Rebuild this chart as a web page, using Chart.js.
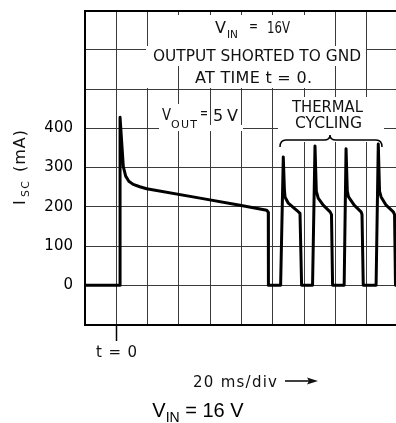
<!DOCTYPE html>
<html>
<head>
<meta charset="utf-8">
<script src="https://cdn.jsdelivr.net/npm/chart.js@4.4.1/dist/chart.umd.min.js"></script>
<style>
html, body { margin: 0; padding: 0; background: #fff; overflow: hidden; width: 396px; height: 423px; }
#wrap { width: 402px; height: 423px; }
</style>
</head>
<body>
<div id="wrap"><canvas id="chart" width="402" height="423"></canvas></div>
<script>
// time in scope divisions (20 ms/div), t = 0 at division 1
const timeDiv = [
    0, 1.12, 1.12, 1.224, 1.30, 1.40, 1.54, 1.75, 1.97, 3.674, 4.952, 5.805, 5.856,
    5.86, 6.25, 6.335, 6.37, 6.39, 6.495, 6.764, 6.869, 6.92,
    7.27, 7.348, 7.39, 7.45, 7.61, 7.83, 7.875, 7.91,
    8.28, 8.34, 8.38, 8.42, 8.60, 8.82, 8.85, 8.89,
    9.30, 9.37, 9.41, 9.46, 9.62, 9.85, 9.89, 9.92, 10.3
];
// short circuit current, mA
const iscMa = [
    0, 0, 428, 302, 278, 265, 257, 251, 246, 222, 204, 191, 186,
    0, 0, 327, 245, 225, 209, 191, 183, 0,
    0, 355, 240, 222, 204, 187, 180, 0,
    0, 348, 240, 225, 204, 187, 180, 0,
    0, 360, 240, 225, 204, 187, 180, 0, 0
];
const yTickLabels = [0, 100, 200, 300, 400];

const FONT = '"DejaVu Sans"';

// draws text so it spans x0..x1 (squeezes or spaces letters)
const fitText = (ctx, str, x0, x1, baseline, size, family) => {
    ctx.save();
    ctx.font = size + 'px ' + (family || FONT);
    ctx.letterSpacing = '0px';
    ctx.textAlign = 'left';
    ctx.textBaseline = 'alphabetic';
    const w = ctx.measureText(str).width;
    const target = x1 - x0;
    if (w > target) {
        ctx.translate(x0, baseline);
        ctx.scale(target / w, 1);
        ctx.fillText(str, 0, 0);
    } else {
        ctx.letterSpacing = ((target - w) / Math.max(str.length - 1, 1)) + 'px';
        ctx.fillText(str, x0, baseline);
    }
    ctx.restore();
};

const mask = (ctx, x0, y0, x1, y1) => {
    ctx.fillStyle = '#fff';
    ctx.fillRect(x0, y0, x1 - x0, y1 - y0);
};

const annotations = {
    id: 'annotations',
    afterDraw(chart) {
        const ctx = chart.ctx;
        ctx.save();

        // white areas behind the notes (grid is broken there in the original)
        mask(ctx, 148, 15, 330, 46);
        mask(ctx, 146, 46, 366, 66);
        mask(ctx, 146, 66, 176, 88);
        mask(ctx, 186, 66, 330, 88);
        mask(ctx, 159, 104, 199, 131);
        mask(ctx, 159, 125, 243, 131);
        mask(ctx, 278, 97, 384, 142);

        ctx.fillStyle = '#111';
        // top note
        fitText(ctx, 'V', 215, 226, 33, 16);
        fitText(ctx, 'IN', 227, 238, 38, 11);
        fitText(ctx, '=', 249, 258, 31, 16);
        fitText(ctx, '16V', 267, 290, 33, 16);
        fitText(ctx, 'OUTPUT SHORTED TO GND', 153, 361, 61, 16);
        fitText(ctx, 'AT TIME t = 0.', 195, 312, 83, 16);

        // V_OUT = 5V
        fitText(ctx, 'V', 162, 171, 120, 16);
        fitText(ctx, 'OUT', 171, 197, 128, 11);
        fitText(ctx, '=', 200, 208, 118, 16);
        fitText(ctx, '5V', 213, 238, 121, 16);

        // thermal cycling
        fitText(ctx, 'THERMAL', 292, 363, 112, 16);
        fitText(ctx, 'CYCLING', 295, 362, 128, 16);
        ctx.strokeStyle = '#000';
        ctx.lineWidth = 1.5;
        ctx.beginPath();
        ctx.moveTo(280, 147);
        ctx.quadraticCurveTo(280, 140, 286, 140);
        ctx.lineTo(324, 140);
        ctx.quadraticCurveTo(330, 140, 330, 135);
        ctx.quadraticCurveTo(330, 140, 336, 140);
        ctx.lineTo(376, 140);
        ctx.quadraticCurveTo(382, 140, 382, 147);
        ctx.stroke();

        // y axis title: I_SC (mA)
        ctx.save();
        ctx.translate(25, 205);
        ctx.rotate(-Math.PI / 2);
        fitText(ctx, 'I', 0, 6, 0, 16);
        fitText(ctx, 'SC', 8, 24, 4, 11);
        fitText(ctx, '(mA)', 33, 75, 0, 16);
        ctx.restore();

        // t = 0 marker under the axis
        const xs = chart.scales.x;
        const t0 = Math.round(xs.getPixelForValue(1)) + 0.5;
        ctx.lineWidth = 1.5;
        ctx.beginPath();
        ctx.moveTo(t0, chart.chartArea.bottom);
        ctx.lineTo(t0, 341);
        ctx.stroke();
        fitText(ctx, 't = 0', 96, 137, 357, 15);

        // time base
        fitText(ctx, '20 ms/div', 193, 277, 387, 15);
        ctx.lineWidth = 1.5;
        ctx.beginPath();
        ctx.moveTo(285, 381);
        ctx.lineTo(310, 381);
        ctx.stroke();
        ctx.beginPath();
        ctx.moveTo(318, 381);
        ctx.lineTo(307, 377.5);
        ctx.lineTo(309, 381);
        ctx.lineTo(307, 384.5);
        ctx.closePath();
        ctx.fill();

        // caption
        ctx.fillStyle = '#000';
        ctx.font = '20px "Liberation Sans"';
        ctx.textAlign = 'left';
        const wV = ctx.measureText('V').width;
        const wRest = ctx.measureText(' = 16 V').width;
        ctx.font = '14px "Liberation Sans"';
        const wIn = ctx.measureText('IN').width;
        const cx0 = 198 - (wV + wIn + wRest) / 2;
        ctx.font = '20px "Liberation Sans"';
        ctx.fillText('V', cx0, 417);
        ctx.fillText(' = 16 V', cx0 + wV + wIn, 417);
        ctx.font = '14px "Liberation Sans"';
        ctx.fillText('IN', cx0 + wV, 422);

        ctx.restore();
    }
};

const ctx = document.getElementById('chart').getContext('2d');

new Chart(ctx, {
    type: 'line',
    data: {
        datasets: [{
            data: timeDiv.map((t, i) => ({ x: t, y: iscMa[i] })),
            borderColor: '#000',
            borderWidth: 3,
            borderJoinStyle: 'round',
            pointRadius: 0,
            tension: 0,
            fill: false
        }]
    },
    options: {
        responsive: false,
        animation: false,
        devicePixelRatio: 1,
        layout: { padding: { top: 10.5, right: 4, left: 0, bottom: 0 } },
        plugins: {
            legend: { display: false },
            tooltip: { enabled: false }
        },
        scales: {
            x: {
                type: 'linear',
                min: 0,
                max: 10,
                ticks: { stepSize: 1, display: false },
                grid: { color: '#3a3a3a', lineWidth: 1, drawTicks: false },
                border: { color: '#000', width: 2 },
                afterFit: (scale) => {
                    scale.height = 98.5;
                    scale.paddingLeft = 0;
                    scale.paddingRight = 0;
                }
            },
            y: {
                min: -100,
                max: 700,
                ticks: {
                    stepSize: 100,
                    padding: 12,
                    color: '#000',
                    font: { family: 'DejaVu Sans', size: 15 },
                    callback: (v) => yTickLabels.includes(v) ? String(v) : ''
                },
                grid: {
                    color: (c) => c.tick && c.tick.value === 700 ? '#000' : '#3a3a3a',
                    lineWidth: (c) => c.tick && c.tick.value === 700 ? 2 : 1,
                    drawTicks: false
                },
                border: { color: '#000', width: 2 },
                afterFit: (scale) => {
                    scale.width = 85;
                    scale.paddingTop = 0;
                    scale.paddingBottom = 0;
                }
            }
        }
    },
    plugins: [annotations]
});
</script>
</body>
</html>
